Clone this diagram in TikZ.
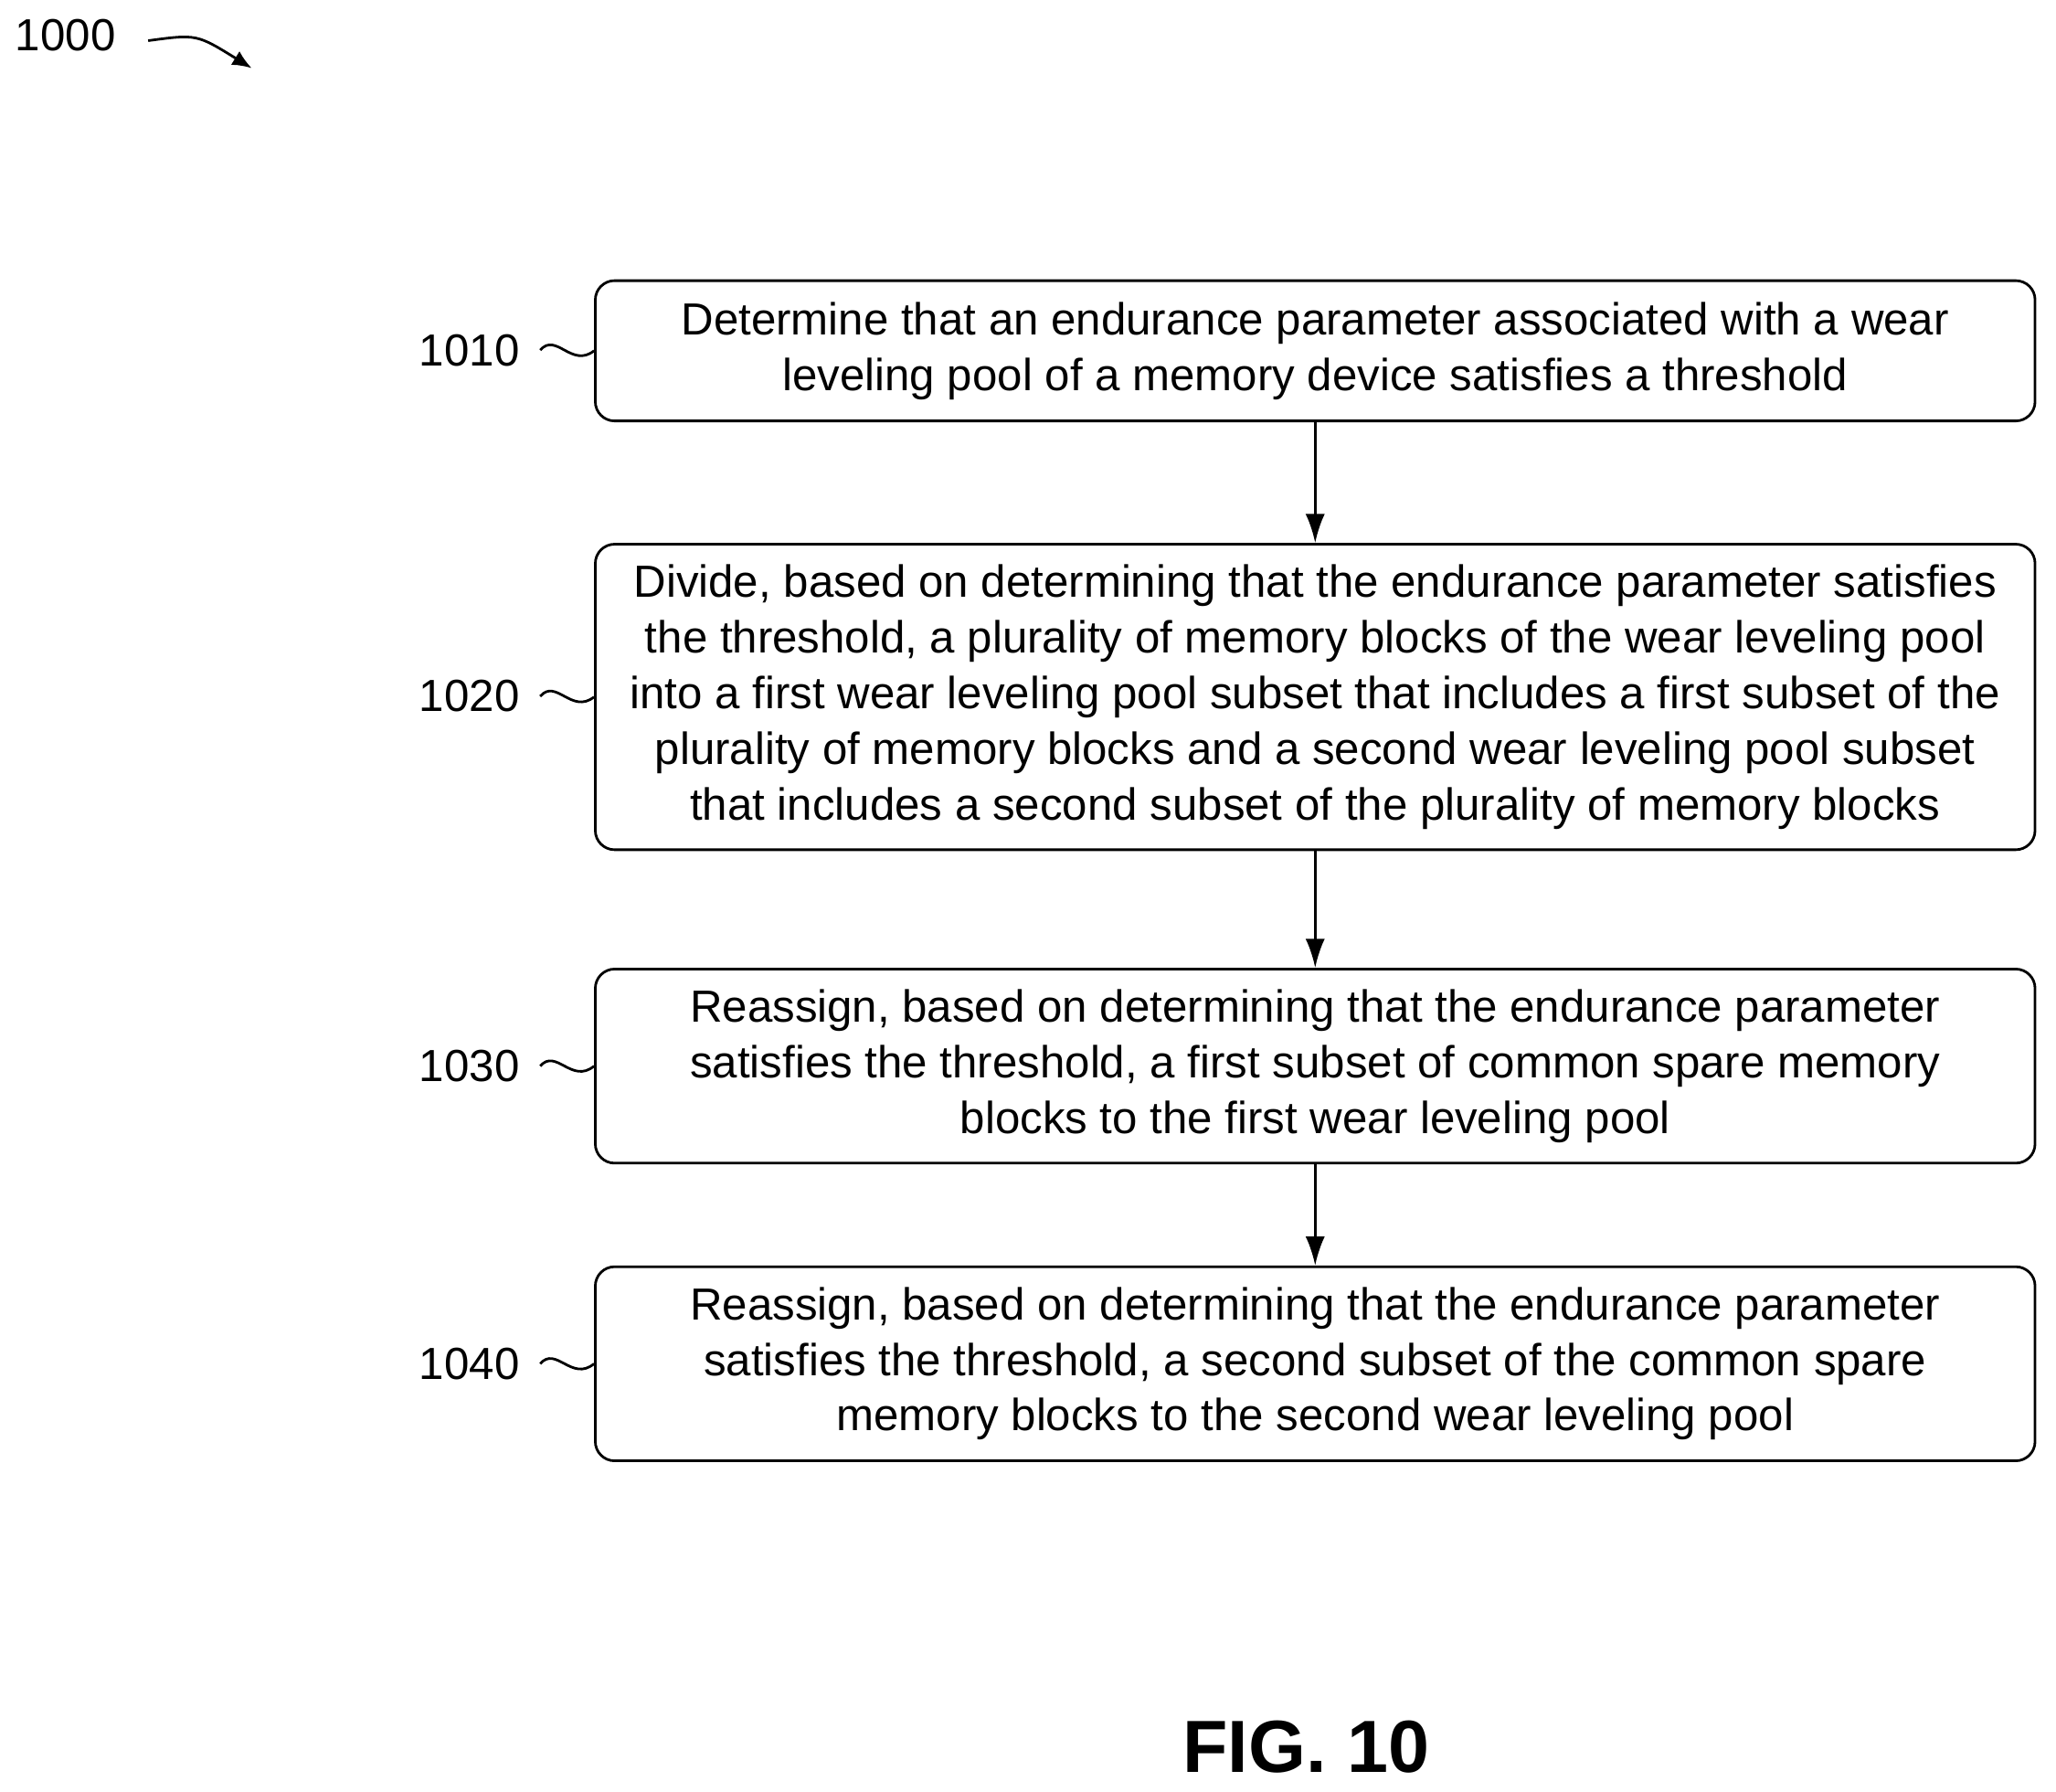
\documentclass[tikz,border=0pt]{standalone}
\usepackage{fontspec}
\setmainfont{Liberation Sans}
\usetikzlibrary{arrows.meta}
\begin{document}
\begin{tikzpicture}[x=0.01435cm, y=-0.01435cm,
	flowbox/.style={draw, thick, rounded corners=6pt, minimum width=1098*0.01435cm, align=center, font=\fontsize{14}{17.3}\selectfont, inner sep=0pt},
	lbl/.style={font=\fontsize{14}{17}\selectfont},
	arr/.style={thick, -{Latex[length=9pt,width=6pt]}}]

	\useasboundingbox (0,0) rectangle (1568,1366);

	\node[lbl] (n1000) at (50,27) {1000};
	\coordinate (a0) at (113,31);
	\coordinate (a1) at (192,52);
	\draw[thick, -{Latex[length=6pt,width=5pt]}] (a0) .. controls (150,26) .. (a1);

	\node[flowbox, minimum height=107*0.01435cm] (s1010) at (1003,267.5) {Determine that an endurance parameter associated with a wear\\leveling pool of a memory device satisfies a threshold};
	\node[flowbox, minimum height=233*0.01435cm] (s1020) at (1003,531.5) {Divide, based on determining that the endurance parameter satisfies\\the threshold, a plurality of memory blocks of the wear leveling pool\\into a first wear leveling pool subset that includes a first subset of the\\plurality of memory blocks and a second wear leveling pool subset\\that includes a second subset of the plurality of memory blocks};
	\node[flowbox, minimum height=148*0.01435cm] (s1030) at (1003,813) {Reassign, based on determining that the endurance parameter\\satisfies the threshold, a first subset of common spare memory\\blocks to the first wear leveling pool};
	\node[flowbox, minimum height=148*0.01435cm] (s1040) at (1003,1040) {Reassign, based on determining that the endurance parameter\\satisfies the threshold, a second subset of the common spare\\memory blocks to the second wear leveling pool};

	\foreach \s/\t in {1010/267, 1020/531, 1030/813, 1040/1040}{
		\node[lbl] (l\s) at (358,\t) {\s};
		\draw[thick] (412,\t) .. controls (424,\t-14) and (436,\t+14) .. (s\s.west);
	}

	\draw[arr] (s1010) -- (s1020);
	\draw[arr] (s1020) -- (s1030);
	\draw[arr] (s1030) -- (s1040);

	\node[font=\fontsize{23}{25}\selectfont\bfseries] (fig) at (996,1332) {FIG. 10};

\end{tikzpicture}
\end{document}
